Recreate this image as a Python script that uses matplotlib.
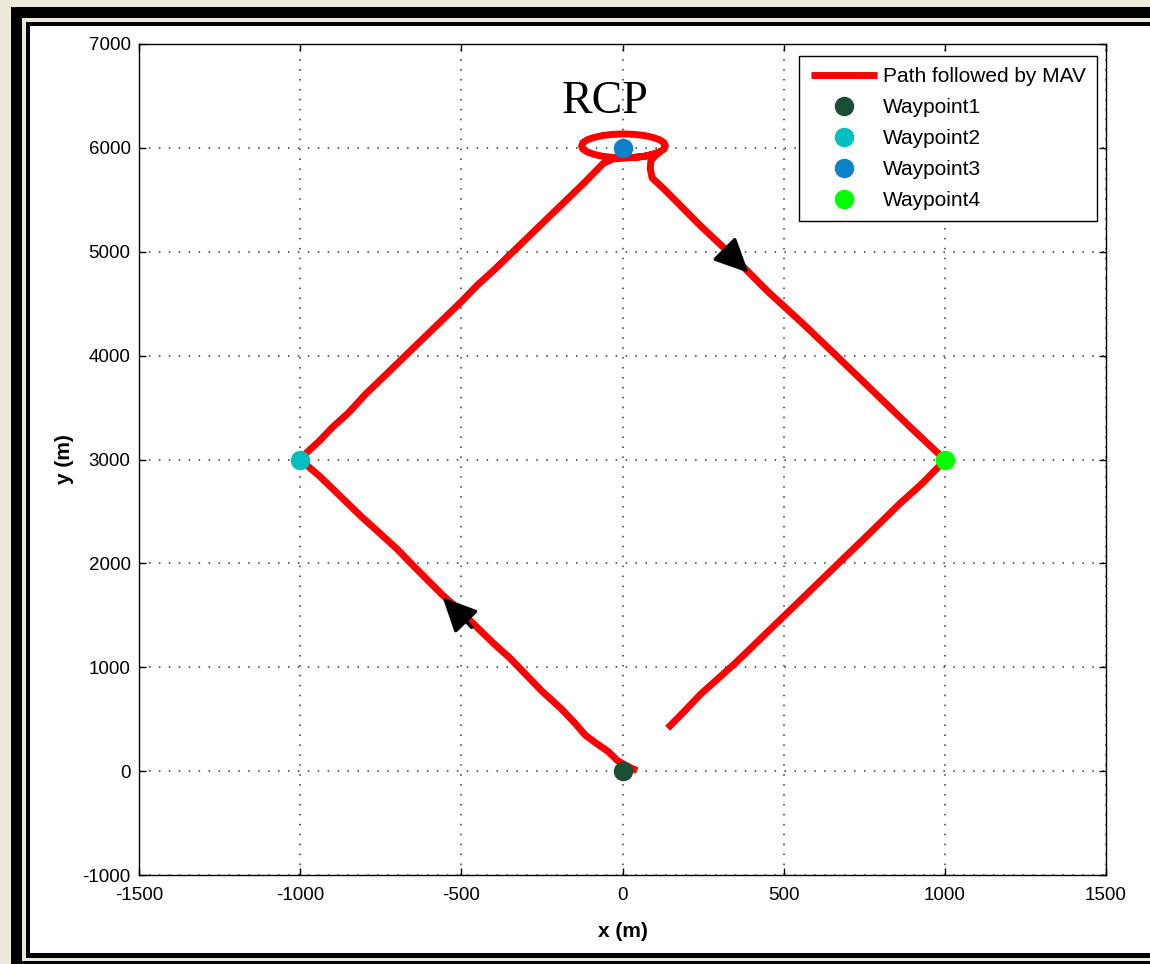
import matplotlib
matplotlib.use("Agg")
import matplotlib.pyplot as plt
from matplotlib.patches import Rectangle

plt.rcParams['font.family'] = ['Liberation Sans', 'DejaVu Sans']
plt.rcParams['axes.unicode_minus'] = False

# ---- data ----
path_x = [45, 30, 8, -15, -45, -80, -115, -150, -190, -250, -300, -350, -400, -470, -520, -560, -650,
          -700, -760, -810, -860, -940, -985, -1000,
          -985, -940, -900, -850, -800, -700, -600, -500, -450, -400, -300, -200, -120, -60,
          -30, 3, 37, 68, 95, 116, 129, 133, 129, 116, 95, 68, 37, 3, -31, -62, -89, -110,
          -123, -127, -123, -110, -89, -62, -31, 3, 37, 68, 95, 116,
          100, 88, 86, 92, 130,
          242, 300, 357, 450, 552, 650, 720, 800, 900, 986, 1000,
          990, 930, 862, 750, 650, 552, 450, 350, 242, 190, 140]
path_y = [5, 25, 60, 100, 190, 265, 345, 470, 600, 770, 930, 1090, 1230, 1440, 1590, 1700, 1980,
          2140, 2310, 2450, 2600, 2840, 2960, 3000,
          3050, 3180, 3310, 3450, 3620, 3920, 4220, 4520, 4680, 4820, 5120, 5420, 5660, 5850,
          5893, 5904, 5908, 5919, 5938, 5962, 5989, 6019, 6049, 6077, 6100, 6119, 6130, 6134, 6130, 6119, 6100, 6077,
          6049, 6019, 5989, 5962, 5938, 5919, 5908, 5904, 5908, 5919, 5938, 5962,
          5920, 5875, 5800, 5710, 5600,
          5250, 5080, 4910, 4620, 4330, 4040, 3830, 3590, 3290, 3040, 3000,
          2960, 2770, 2580, 2240, 1940, 1646, 1340, 1040, 740, 570, 413]

wp_names = ['Waypoint1', 'Waypoint2', 'Waypoint3', 'Waypoint4']
wp_x = [0, -1000, 0, 1000]
wp_y = [0, 3000, 6000, 3000]
wp_colors = ['#1B4D35', '#00BFBF', '#0B82C8', '#00FF00']

arrow_tails = [(322, 5010), (-468, 1385)]
arrow_heads = [(391, 4798), (-558, 1673)]

xticks = [-1500, -1000, -500, 0, 500, 1000, 1500]
yticks = [-1000, 0, 1000, 2000, 3000, 4000, 5000, 6000, 7000]

W, H = 1150, 964
fig = plt.figure(figsize=(W / 100, H / 100), dpi=100, facecolor='#ECE9D8')

def frame_rect(x0, top, bottom, color):
    fig.patches.append(Rectangle((x0 / W, 1 - bottom / H), 1.2, (bottom - top) / H,
                                 transform=fig.transFigure, facecolor=color,
                                 edgecolor='none', zorder=-10))

frame_rect(11, 7, 964, 'black')
frame_rect(22, 18, 961, '#ECE9D8')
frame_rect(26, 22, 958, 'black')
frame_rect(30, 26, 953, 'white')

ax = fig.add_axes([139 / W, 1 - 875 / H, (1106 - 139) / W, (875 - 44) / H])
ax.set_facecolor('white')

ax.plot(path_x, path_y, color='#FF0000', lw=5, solid_capstyle='butt',
        solid_joinstyle='round', label='Path followed by MAV', zorder=3)
for n, x, y, c in zip(wp_names, wp_x, wp_y, wp_colors):
    ax.plot([x], [y], 'o', color=c, markersize=13, label=n, zorder=4)

for t, h in zip(arrow_tails, arrow_heads):
    ax.annotate('', xy=h, xytext=t,
                arrowprops=dict(arrowstyle='-|>,head_length=0.95,head_width=0.45',
                                color='black', lw=2.5, mutation_scale=22,
                                shrinkA=0, shrinkB=0), zorder=5)

ax.text(-53, 6440, 'RCP', fontfamily=['Liberation Serif', 'DejaVu Serif'],
        fontsize=33, ha='center', va='center')

ax.set_xlim(-1500, 1500)
ax.set_ylim(-1000, 7000)
ax.set_xticks(xticks)
ax.set_yticks(yticks)
ax.set_xticklabels([str(v) for v in xticks])
ax.set_yticklabels([str(v) for v in yticks])
ax.tick_params(direction='in', length=5, width=1, top=True, right=True,
               labelsize=13.5, pad=6, colors='black')
ax.tick_params(axis='x', pad=9)
ax.grid(True, color='#333333', linestyle=(0, (1, 5.5)), lw=1.1)
for s in ax.spines.values():
    s.set_linewidth(1.0)
    s.set_color('black')

ax.set_xlabel('x (m)', fontsize=15, fontweight='bold', labelpad=12.5)
ax.set_ylabel('y (m)', fontsize=15, fontweight='bold', labelpad=6)

leg = ax.legend(loc='upper right', bbox_to_anchor=(0.9907, 0.9856), fontsize=15,
                fancybox=False, edgecolor='black', framealpha=1, handlelength=3.2,
                handletextpad=0.25, labelspacing=0.57, borderaxespad=0.0, borderpad=0.55)
leg.get_frame().set_linewidth(1.0)

fig.savefig('out.png', dpi=100, facecolor=fig.get_facecolor())
